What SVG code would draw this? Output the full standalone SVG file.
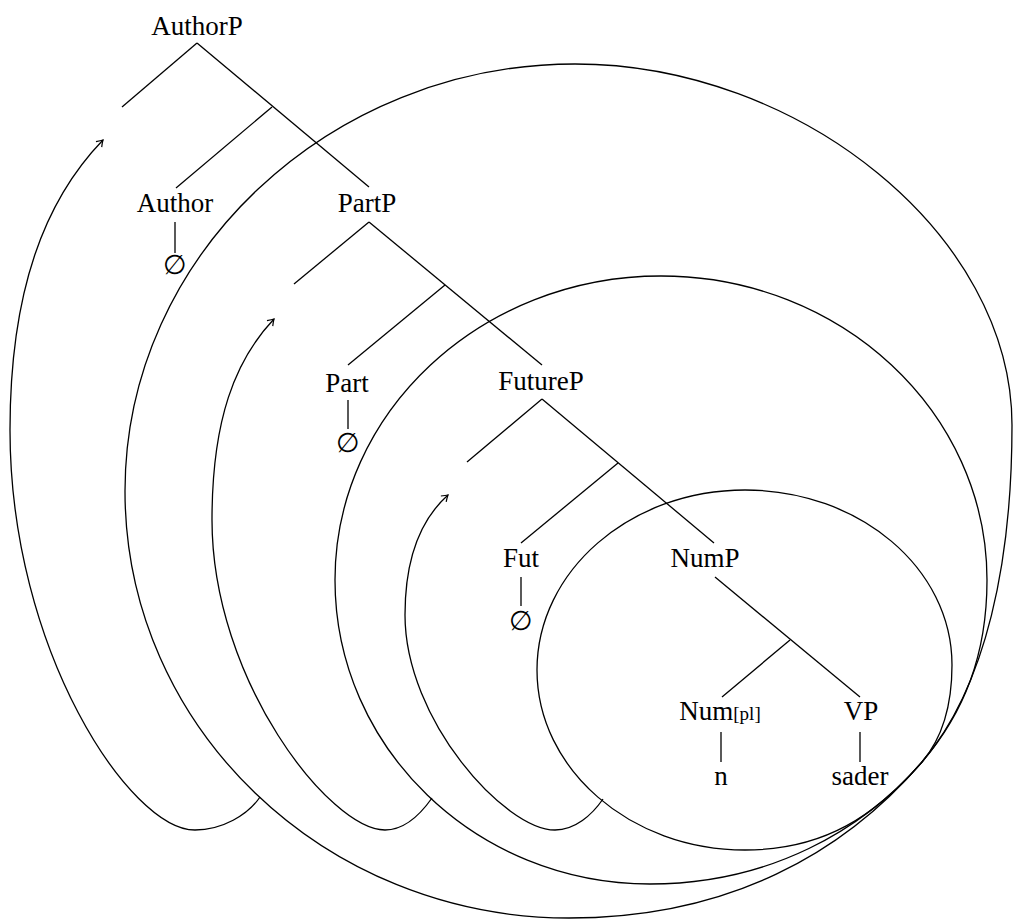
<svg xmlns="http://www.w3.org/2000/svg" width="1013" height="920" viewBox="0 0 1013 920">
<style>
text{font-family:"Liberation Serif","Times New Roman",serif;font-size:27px;fill:#000;text-anchor:middle}
.sm{font-size:19px}
line,path{stroke:#000;stroke-width:1.3;fill:none}
</style>
<defs>
<marker id="arr" markerUnits="userSpaceOnUse" markerWidth="14" markerHeight="14" refX="0" refY="0" viewBox="-8 -7 10 14" orient="auto">
<path d="M -6,-4 Q -2,-1 0,0 Q -2,1 -6,4" style="stroke-width:1.2"/>
</marker>
</defs>
<rect width="1013" height="920" fill="#fff"/>
<g id="connectors">
<line x1="197" y1="43" x2="122" y2="107"/>
<line x1="197" y1="43" x2="369" y2="187"/>
<line x1="272" y1="107" x2="176" y2="188"/>
<line x1="175" y1="222" x2="175" y2="253"/>
<line x1="369" y1="222" x2="294" y2="284"/>
<line x1="369" y1="222" x2="542" y2="365"/>
<line x1="445" y1="285" x2="348" y2="365"/>
<line x1="348" y1="400" x2="348" y2="429"/>
<line x1="542" y1="399" x2="467" y2="462"/>
<line x1="542" y1="399" x2="714" y2="543"/>
<line x1="618" y1="463" x2="521" y2="543"/>
<line x1="521" y1="577" x2="521" y2="606"/>
<line x1="715" y1="577" x2="860" y2="697"/>
<line x1="790" y1="640" x2="722" y2="697"/>
<line x1="721" y1="732" x2="721" y2="762"/>
<line x1="860" y1="732" x2="860" y2="762"/>
<path id="ellipse-authorp" d="M575,64 C800,64 1012,235 1012,425 C1012,560 987,686 922,762 C844,853 729,918 569,918 C324,918 125,727 125,491 C125,255 330,64 575,64 Z"/>
<path id="ellipse-partp" d="M661,276 C841,276 987,412 987,580 C987,655 964,713 922,762 C863,830 770,884 650,884 C476,884 335,748 335,580 C335,412 481,276 661,276 Z"/>
<path id="ellipse-futurep" d="M745,490 C859,490 952,568 952,665 C952,700 945,735 922,762 C876,815 825,850 745,850 C630,850 537,769 537,670 C537,571 630,490 745,490 Z"/>
<path d="M260,797 C248,815 222,830 195,830 C130,830 10,650 10,430 C10,290 45,200 103,140" marker-end="url(#arr)"/>
<path d="M432,798 C420,815 405,830 385,830 C330,830 212,680 212,520 C212,420 235,360 274,319" marker-end="url(#arr)"/>
<path d="M603,799 C592,815 575,830 555,830 C505,830 405,720 405,615 C405,560 420,520 448,495" marker-end="url(#arr)"/>
</g>
<g id="n-authorp"><text x="197" y="35">AuthorP</text></g>
<g id="n-author"><text x="175" y="212">Author</text></g>
<g id="n-author-null"><text x="175" y="274">∅</text></g>
<g id="n-partp"><text x="367" y="212">PartP</text></g>
<g id="n-part"><text x="347" y="392">Part</text></g>
<g id="n-part-null"><text x="348" y="452">∅</text></g>
<g id="n-futurep"><text x="541" y="390">FutureP</text></g>
<g id="n-fut"><text x="521" y="567">Fut</text></g>
<g id="n-fut-null"><text x="521" y="630">∅</text></g>
<g id="n-nump"><text x="705" y="567">NumP</text></g>
<g id="n-num"><text x="720" y="720">Num<tspan class="sm">[pl]</tspan></text></g>
<g id="n-n"><text x="721" y="785">n</text></g>
<g id="n-vp"><text x="861" y="720">VP</text></g>
<g id="n-sader"><text x="860" y="785">sader</text></g>
</svg>
